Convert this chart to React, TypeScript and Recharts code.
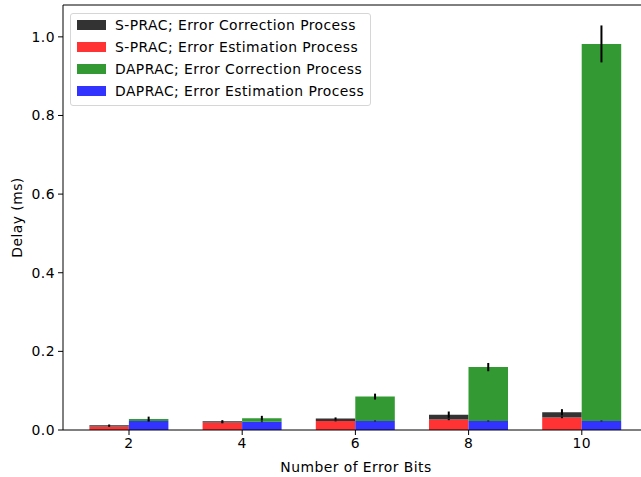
import { BarChart, Bar, XAxis, YAxis, Legend, ErrorBar, ReferenceLine } from 'recharts';

const categories = ['2', '4', '6', '8', '10'];
const sPracEstimation = [0.009, 0.019, 0.023, 0.027, 0.032];
const sPracCorrection = [0.003, 0.003, 0.006, 0.012, 0.013];
const daEstimation = [0.023, 0.021, 0.023, 0.023, 0.023];
const daCorrection = [0.005, 0.009, 0.062, 0.137, 0.959];
const sPracEstErr = [0.001, 0.002, 0.001, 0.002, 0.002];
const sPracCorrErr = [0.002, 0.003, 0.003, 0.008, 0.008];
const daEstErr = [0.001, 0.001, 0.001, 0.001, 0.001];
const daCorrErr = [0.006, 0.006, 0.0075, 0.0105, 0.047];
const yTicks = [0, 0.2, 0.4, 0.6, 0.8, 1.0];
const Y_MAX = 1.081;

const series = [
  { key: 'sCorr', name: 'S-PRAC; Error Correction Process', color: '#333333' },
  { key: 'sEst', name: 'S-PRAC; Error Estimation Process', color: '#ff3333' },
  { key: 'dCorr', name: 'DAPRAC; Error Correction Process', color: '#339933' },
  { key: 'dEst', name: 'DAPRAC; Error Estimation Process', color: '#3333ff' },
];

const data = categories.map((c, i) => ({
  bits: c,
  sEst: sPracEstimation[i],
  sCorr: sPracCorrection[i],
  dEst: daEstimation[i],
  dCorr: daCorrection[i],
  sEstErr: sPracEstErr[i],
  sCorrErr: sPracCorrErr[i],
  dEstErr: daEstErr[i],
  dCorrErr: daCorrErr[i],
}));

const FONT = 'DejaVu Sans, sans-serif';
const SPACING = '0.45px';
const tickStyle = { fill: '#000', fontSize: 13.9, fontFamily: FONT, letterSpacing: SPACING };

function LegendBox() {
  return (
    <div style={{
      background: 'rgba(255,255,255,0.8)', border: '1px solid #d6d6d6', borderRadius: 3,
      padding: '0 6px 3px 6px', fontFamily: FONT, fontSize: 13.9, letterSpacing: SPACING,
      color: '#000', whiteSpace: 'nowrap',
    }}>
      {series.map(s => (
        <div key={s.key} style={{ display: 'flex', alignItems: 'center', height: 22 }}>
          <span style={{ display: 'inline-block', width: 29, height: 10, background: s.color, marginRight: 9 }} />
          <span>{s.name}</span>
        </div>
      ))}
    </div>
  );
}

// the original figure is cropped on the right, so the plot runs past the window edge
export default function App() {
  return (
    <div style={{ position: 'absolute', left: 0, top: 0, width: 641, height: 477, overflow: 'hidden' }}>
      <BarChart width={652} height={477} data={data} barGap={0} barSize={39.5}
        margin={{ top: 5, right: 3, bottom: 0, left: 0 }}>
        <XAxis dataKey="bits" height={47} padding={{ left: 9.4, right: 10.6 }}
          tick={tickStyle} tickSize={5} tickMargin={3}
          axisLine={{ stroke: '#000' }} tickLine={{ stroke: '#000' }}
          label={{ value: 'Number of Error Bits', position: 'insideBottom', offset: 5, fill: '#000', fontSize: 13.9, fontFamily: FONT, letterSpacing: SPACING }} />
        <YAxis type="number" domain={[0, Y_MAX]} ticks={yTicks} width={63}
          tickFormatter={(v: number) => v.toFixed(1)}
          tick={tickStyle} tickSize={5} tickMargin={3}
          axisLine={{ stroke: '#000' }} tickLine={{ stroke: '#000' }}
          label={{ value: 'Delay (ms)', angle: -90, position: 'center', dx: -14, fill: '#000', fontSize: 13.9, fontFamily: FONT, letterSpacing: SPACING }} />
        <ReferenceLine y={Y_MAX} stroke="#000" strokeWidth={1} />
        <Legend verticalAlign="middle" align="center" layout="vertical" content={() => <LegendBox />}
          wrapperStyle={{ position: 'absolute', left: 70, top: 13, width: 'auto', height: 'auto' }} />
        <Bar dataKey="sEst" stackId="s" fill="#ff3333" isAnimationActive={false}>
          <ErrorBar dataKey="sEstErr" width={0} stroke="#000" strokeWidth={2} />
        </Bar>
        <Bar dataKey="sCorr" stackId="s" fill="#333333" isAnimationActive={false}>
          <ErrorBar dataKey="sCorrErr" width={0} stroke="#000" strokeWidth={2} />
        </Bar>
        <Bar dataKey="dEst" stackId="d" fill="#3333ff" isAnimationActive={false}>
          <ErrorBar dataKey="dEstErr" width={0} stroke="#000" strokeWidth={2} />
        </Bar>
        <Bar dataKey="dCorr" stackId="d" fill="#339933" isAnimationActive={false}>
          <ErrorBar dataKey="dCorrErr" width={0} stroke="#000" strokeWidth={2} />
        </Bar>
      </BarChart>
    </div>
  );
}
